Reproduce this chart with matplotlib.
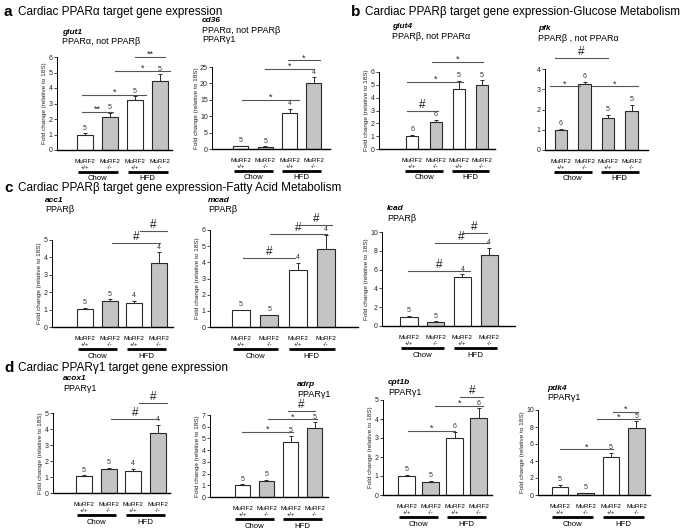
import matplotlib
matplotlib.use("Agg")
import matplotlib.pyplot as plt
from matplotlib.transforms import offset_copy

plt.rcParams["font.family"] = ["Liberation Sans", "DejaVu Sans"]

W, H = 685, 532

genotypes = ["+/+", "-/-", "+/+", "-/-"]
diets = ["Chow", "HFD"]
ylab = "Fold change (relative to 18S)"

# fold change vs 18S: mean, SEM (upper only), n per group
glut1_mean = [1.0, 2.1, 3.25, 4.45]
glut1_sem = [0.07, 0.3, 0.22, 0.43]
glut1_n = [5, 5, 5, 5]
glut1_sig = [(-0.12, 1.12, 2.45, "**"), (-0.12, 2.45, 3.55, "*"),
             (1.2, 3.4, 5.1, "*"), (2.0, 3.2, 6.0, "**")]

cd36_mean = [0.9, 0.7, 11.0, 20.0]
cd36_sem = [0.15, 0.15, 1.3, 1.8]
cd36_n = [5, 5, 4, 4]
cd36_sig = [(0.04, 2.4, 15.0, "*"), (1.0, 2.96, 24.5, "*"), (1.93, 3.25, 27.0, "*")]

glut4_mean = [1.0, 2.07, 4.7, 5.0]
glut4_sem = [0.08, 0.22, 0.6, 0.35]
glut4_n = [6, 6, 5, 5]
glut4_sig = [(-0.24, 1.1, 3.0, "#"), (-0.24, 2.2, 5.25, "*"), (0.84, 3.04, 6.8, "*")]

pfk_mean = [1.0, 3.25, 1.6, 1.95]
pfk_sem = [0.03, 0.13, 0.13, 0.28]
pfk_n = [6, 6, 5, 5]
pfk_sig = [(-0.47, 0.81, 3.15, "*"), (1.32, 3.27, 3.15, "*"), (-0.26, 2.0, 4.55, "#")]

acc1_mean = [1.05, 1.47, 1.4, 3.7]
acc1_sem = [0.06, 0.12, 0.1, 0.6]
acc1_n = [5, 5, 4, 4]
acc1_sig = [(1.1, 3.06, 4.8, "#"), (2.24, 3.35, 5.5, "#")]

mcad_mean = [1.03, 0.72, 3.52, 4.82]
mcad_sem = [0.04, 0.05, 0.45, 0.88]
mcad_n = [5, 5, 4, 4]
mcad_sig = [(0.07, 1.9, 4.26, "#"), (1.02, 3.04, 5.74, "#"), (2.08, 3.2, 6.3, "#")]

lcad_mean = [1.0, 0.45, 5.2, 7.55]
lcad_sem = [0.08, 0.05, 0.3, 0.75]
lcad_n = [5, 5, 4, 4]
lcad_sig = [(-0.04, 2.3, 5.85, "#"), (0.97, 2.97, 8.8, "#"), (1.98, 2.94, 9.9, "#")]

acox1_mean = [1.05, 1.47, 1.4, 3.72]
acox1_sem = [0.06, 0.12, 0.1, 0.55]
acox1_n = [5, 5, 4, 4]
acox1_sig = [(1.1, 3.06, 4.6, "#"), (2.24, 3.35, 5.6, "#")]

adrp_mean = [1.0, 1.37, 4.66, 5.86]
adrp_sem = [0.07, 0.07, 0.55, 0.5]
adrp_n = [5, 5, 5, 5]
adrp_sig = [(-0.02, 2.1, 5.57, "*"), (1.06, 3.1, 6.63, "*"), (1.9, 3.0, 7.3, "#")]

cpt1b_mean = [1.0, 0.7, 2.98, 4.04]
cpt1b_sem = [0.06, 0.06, 0.35, 0.52]
cpt1b_n = [5, 5, 6, 6]
cpt1b_sig = [(0.06, 2.0, 3.37, "*"), (1.19, 3.2, 4.68, "*"), (2.23, 3.2, 5.14, "#")]

pdk4_mean = [0.98, 0.18, 4.5, 7.9]
pdk4_sem = [0.25, 0.05, 0.45, 0.75]
pdk4_n = [5, 5, 5, 5]
pdk4_sig = [(0.0, 2.08, 5.37, "*"), (1.45, 3.15, 8.9, "*"), (2.08, 3.06, 9.8, "*")]

WHITE, GRAY = "white", "#c4c4c4"
wt_ko = [WHITE, GRAY, WHITE, GRAY]

fig = plt.figure(figsize=(W / 100, H / 100), dpi=100)


def px_axes(l, t, r, b):
    return fig.add_axes([l / W, 1 - b / H, (r - l) / W, (b - t) / H])


def below(ax, dy):
    return offset_copy(ax.get_xaxis_transform(), fig=fig, y=-dy, units="dots")


def panel(rect, xlim, width, ymax, step, mean, sem, n, sig, fills=wt_ko, ylabel=True, diet_dy=29.5):
    ax = px_axes(*rect)
    x = range(len(mean))
    ax.bar(x, mean, width, color=fills, edgecolor="#2a2a2a", linewidth=0.8, zorder=2)
    ax.errorbar(x, mean, yerr=[[0] * len(sem), sem], fmt="none", ecolor="#2a2a2a",
                elinewidth=0.7, capsize=1.5, capthick=0.7, zorder=3)
    for i, (m, s, k) in enumerate(zip(mean, sem, n)):
        ax.annotate(str(k), (i, m + s), xytext=(0, 1.2), textcoords="offset points",
                    ha="center", va="bottom", fontsize=5, color="#333", annotation_clip=False)
    for x0, x1, h, sym in sig:
        ax.plot([x0, x1], [h, h], color="#555", lw=0.8, clip_on=False, zorder=4)
        big = sym == "#"
        ax.annotate(sym, ((x0 + x1) / 2, h), xytext=(0, 0 if big else -1.5),
                    textcoords="offset points", ha="center", va="bottom",
                    fontsize=8.5 if big else 6.5, color="#222", annotation_clip=False)
    ax.set_xlim(*xlim)
    ax.set_ylim(0, ymax)
    ax.set_yticks(range(0, ymax + 1, step))
    ax.set_xticks([])
    for s in ("top", "right"):
        ax.spines[s].set_visible(False)
    ax.spines["left"].set_linewidth(0.7)
    ax.spines["bottom"].set_linewidth(1.0)
    ax.tick_params(axis="y", labelsize=5, length=2, width=0.6, pad=1, colors="#222")
    if ylabel:
        ax.set_ylabel(ylab, fontsize=4.6, labelpad=1, color="#222")
    # group labels under the axis
    for i, g in enumerate(genotypes):
        ax.text(i, 0, "MuRF2", transform=below(ax, 11.5), ha="center", va="center", fontsize=4.6)
        ax.text(i, 0, g, transform=below(ax, 17.5), ha="center", va="center", fontsize=4.3)
    for j, d in enumerate(diets):
        a, b = 2 * j, 2 * j + 1
        ax.plot([a - 0.3, b + 0.3], [0, 0], color="black", lw=2.0, clip_on=False,
                transform=below(ax, 21.5), solid_capstyle="butt")
        ax.text((a + b) / 2, 0, d, transform=below(ax, diet_dy), ha="center", va="center", fontsize=5.6)
    return ax


def gene(x, y, name, subs):
    fig.text(x / W, 1 - y / H, name, fontsize=6, weight="bold", style="italic", va="center")
    for k, s in enumerate(subs):
        fig.text(x / W, 1 - (y + 9.5 * (k + 1)) / H, s, fontsize=6.5, va="center")


def title(x, y, letter, text):
    fig.text(x / W, 1 - y / H, letter, fontsize=11, weight="bold", va="center")
    fig.text((x + 14) / W, 1 - y / H, text, fontsize=8.5, va="center")


title(4, 12, "a", "Cardiac PPARα target gene expression")
title(351, 12, "b", "Cardiac PPARβ target gene expression-Glucose Metabolism")
title(4, 188, "c", "Cardiac PPARβ target gene expression-Fatty Acid Metabolism")
title(4, 368, "d", "Cardiac PPARγ1 target gene expression")

panel((57, 57, 172, 150), (-1.12, 3.48), 0.64, 6, 1, glut1_mean, glut1_sem, glut1_n, glut1_sig,
      diet_dy=28.5)
gene(62, 32, "glut1", ["PPARα, not PPARβ"])

panel((212, 67, 330, 149), (-1.19, 3.66), 0.62, 25, 5, cd36_mean, cd36_sem, cd36_n, cd36_sig,
      diet_dy=28.5)
gene(202, 21, "cd36", ["PPARα, not PPARβ", "PPARγ1"])

panel((379, 72, 495, 149), (-1.44, 3.56), 0.52, 6, 1, glut4_mean, glut4_sem, glut4_n, glut4_sig,
      diet_dy=28.5)
gene(392, 27, "glut4", ["PPARβ, not PPARα"])

panel((545, 69, 648, 150), (-0.68, 3.70), 0.55, 4, 1, pfk_mean, pfk_sem, pfk_n, pfk_sig,
      fills=[GRAY] * 4, ylabel=False, diet_dy=28.5)
gene(538, 29, "pfk", ["PPARβ , not PPARα"])

panel((52, 240, 173, 327), (-1.35, 3.59), 0.65, 5, 1, acc1_mean, acc1_sem, acc1_n, acc1_sig)
gene(45, 200, "acc1", ["PPARβ"])

panel((210, 230, 358, 327), (-1.1, 4.13), 0.64, 6, 1, mcad_mean, mcad_sem, mcad_n, mcad_sig)
gene(208, 200, "mcad", ["PPARβ"])

panel((382, 232, 515, 326), (-1.01, 3.97), 0.64, 10, 2, lcad_mean, lcad_sem, lcad_n, lcad_sig)
gene(387, 209, "lcad", ["PPARβ"])

panel((53, 413, 170, 493), (-1.26, 3.49), 0.66, 5, 1, acox1_mean, acox1_sem, acox1_n, acox1_sig)
gene(63, 379, "acox1", ["PPARγ1"])

panel((210, 415, 328, 497), (-1.35, 3.56), 0.63, 7, 1, adrp_mean, adrp_sem, adrp_n, adrp_sig)
gene(297, 385, "adrp", ["PPARγ1"])

panel((383, 400, 492, 495), (-0.98, 3.56), 0.68, 5, 1, cpt1b_mean, cpt1b_sem, cpt1b_n, cpt1b_sig)
gene(388, 383, "cpt1b", ["PPARγ1"])

panel((538, 410, 650, 495), (-0.86, 3.53), 0.64, 10, 2, pdk4_mean, pdk4_sem, pdk4_n, pdk4_sig)
gene(547, 388, "pdk4", ["PPARγ1"])

fig.savefig("out.png", dpi=100)
